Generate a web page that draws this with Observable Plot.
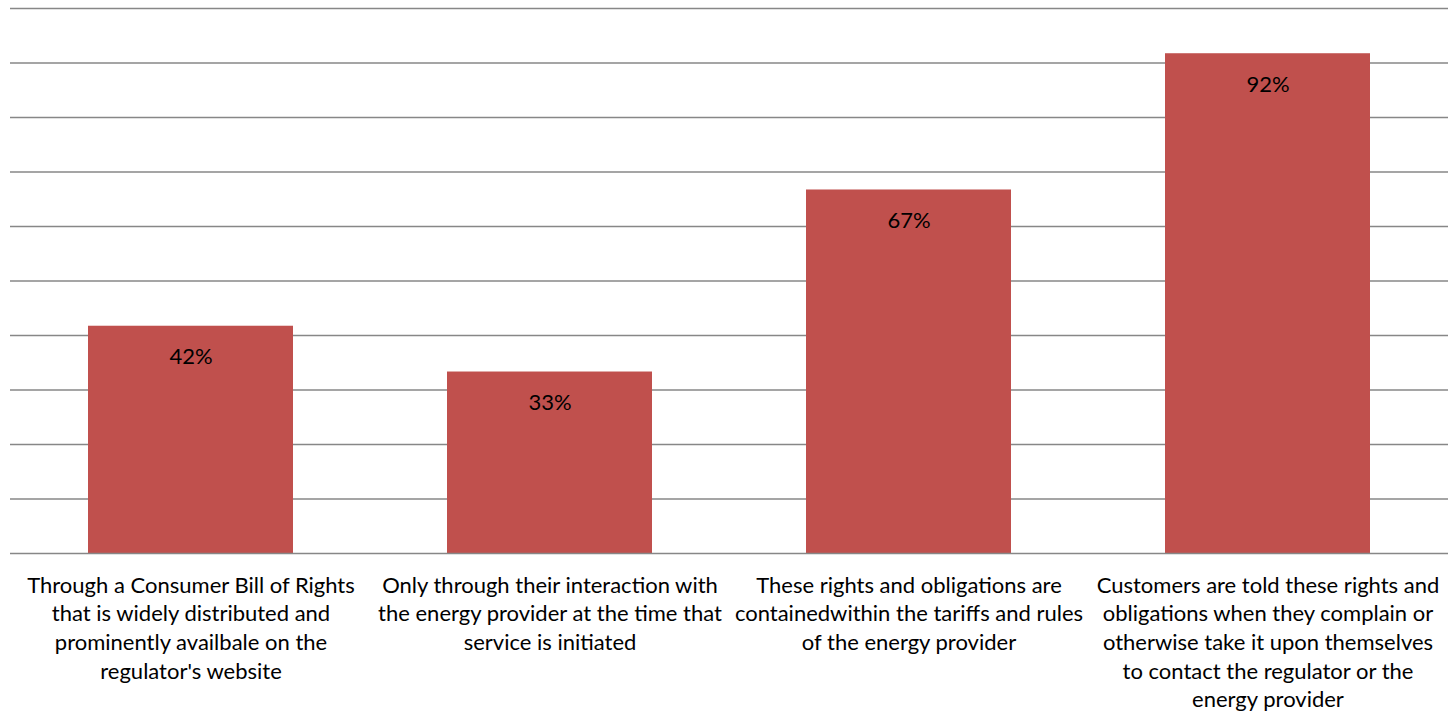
<!DOCTYPE html>
<html><head><meta charset="utf-8">
<script src="https://cdn.jsdelivr.net/npm/d3@7"></script>
<script src="https://cdn.jsdelivr.net/npm/@observablehq/plot@0.6"></script>
<style>body{margin:0;background:#fff;overflow:hidden}</style>
</head><body><div id="chart"></div>
<script>
const categories = [
  "Through a Consumer Bill of Rights\nthat is widely distributed and\nprominently availbale on the\nregulator's website",
  "Only through their interaction with\nthe energy provider at the time that\nservice is initiated",
  "These rights and obligations are\ncontainedwithin the tariffs and rules\nof the energy provider",
  "Customers are told these rights and\nobligations when they complain or\notherwise take it upon themselves\nto contact the regulator or the\nenergy provider"
];
const values = [41.7, 33.3, 66.7, 91.7];
const valueLabels = ["42%", "33%", "67%", "92%"];
const gridTicks = [0, 10, 20, 30, 40, 50, 60, 70, 80, 90, 100];

const data = categories.map((c, i) => ({category: c, value: values[i], label: valueLabels[i]}));

const chart = Plot.plot({
  width: 1452, height: 711,
  marginTop: 8, marginBottom: 158, marginLeft: 10, marginRight: 4,
  style: {fontFamily: "Lato, 'Open Sans', sans-serif", fontSize: "22px", color: "#000", background: "#fff"},
  x: {domain: categories, paddingInner: 0.43, paddingOuter: 0.215, axis: null},
  y: {domain: [0, 100], axis: null},
  marks: [
    Plot.ruleY(gridTicks.filter(d => d > 0), {stroke: "#878787", strokeWidth: 1.6, strokeOpacity: 1}),
    Plot.barY(data, {x: "category", y: "value", fill: "#C0504D"}),
    Plot.ruleY([0], {stroke: "#878787", strokeWidth: 1.6, strokeOpacity: 1}),
    Plot.text(data, {x: "category", y: "value", text: "label", dy: 31, fontSize: 22, fill: "#000"}),
    Plot.text(data, {x: "category", y: 0, text: "category", lineAnchor: "top", dy: 19, lineHeight: 1.3, fontSize: 22, fill: "#000"})
  ]
});
document.getElementById("chart").append(chart);
</script>
</body></html>
